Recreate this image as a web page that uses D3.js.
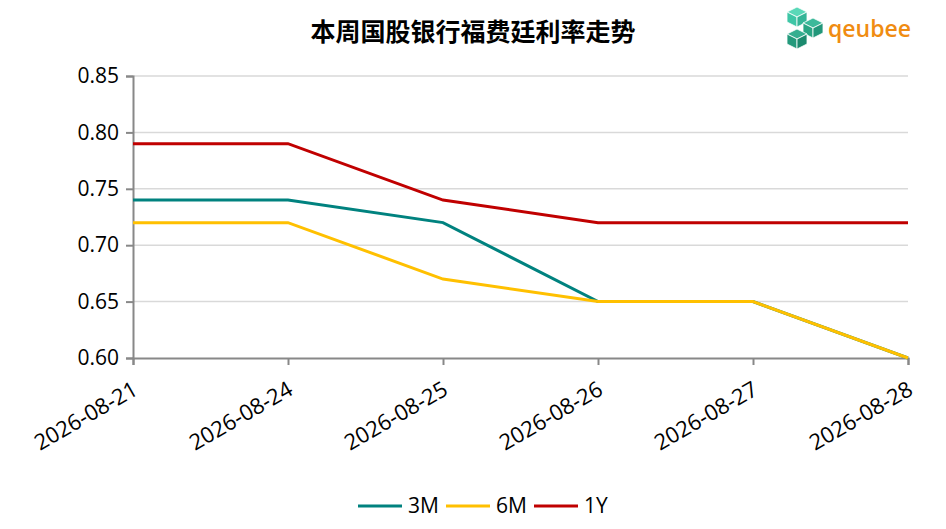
<!DOCTYPE html>
<html><head><meta charset="utf-8">
<script src="https://cdn.jsdelivr.net/npm/d3@7"></script>
<style>
body{margin:0;background:#fff;}
text{font-family:"Open Sans","Noto Sans",sans-serif;}
</style></head>
<body><svg id="c" width="946" height="529"></svg>
<script>
const dates = ["2026-08-21","2026-08-24","2026-08-25","2026-08-26","2026-08-27","2026-08-28"];
const s3M = [0.74,0.74,0.72,0.65,0.65,0.60];
const s6M = [0.72,0.72,0.67,0.65,0.65,0.60];
const s1Y = [0.79,0.79,0.74,0.72,0.72,0.72];
const seriesNames = ["3M","6M","1Y"];
const seriesColors = ["#00827f","#ffc000","#c00000"];
const yTicks = [0.60,0.65,0.70,0.75,0.80,0.85];
const title = "本周国股银行福费廷利率走势";

const series = [s3M,s6M,s1Y];
const svg = d3.select("#c");
const m = {l:133,r:38,t:76,b:171};
const W=946,H=529;
const x = d3.scalePoint().domain(dates).range([m.l,W-m.r]);
const y = d3.scaleLinear().domain([0.60,0.85]).range([H-m.b,m.t]);

// grid
svg.append("g").selectAll("line").data(yTicks.slice(1)).join("line")
 .attr("x1",m.l).attr("x2",W-m.r).attr("y1",d=>y(d)).attr("y2",d=>y(d))
 .attr("stroke","#d9d9d9").attr("stroke-width",1.5);

// y axis
const ya = svg.append("g").attr("transform",`translate(${m.l},0)`)
 .call(d3.axisLeft(y).tickValues(yTicks).tickFormat(d3.format(".2f")).tickSize(7).tickPadding(7));
ya.selectAll("text").attr("font-size",21).attr("fill","#000");
ya.select(".domain").attr("stroke","#888").attr("stroke-width",2);
ya.selectAll(".tick line").attr("stroke","#888").attr("stroke-width",2);

// x axis
const xa = svg.append("g").attr("transform",`translate(0,${H-m.b})`)
 .call(d3.axisBottom(x).tickSize(7));
xa.select(".domain").attr("stroke","#888").attr("stroke-width",2);
xa.selectAll(".tick line").attr("stroke","#888").attr("stroke-width",2);
xa.selectAll("text").attr("font-size",22).attr("fill","#000")
 .attr("text-anchor","end").attr("y",0).attr("dy","0.35em")
 .attr("transform","translate(2,29) rotate(-30)");

// lines
const line = d3.line().x((d,i)=>x(dates[i])).y(d=>y(d));
series.forEach((s,k)=>{
  svg.append("path").datum(s).attr("d",line).attr("fill","none")
   .attr("stroke",seriesColors[k]).attr("stroke-width",3);
});

// title
svg.append("text").attr("x",473).attr("y",41).attr("text-anchor","middle")
 .attr("font-size",25).attr("font-weight","bold")
 .style("font-family","'Noto Sans CJK SC',sans-serif").text(title);

// legend
const lg = svg.append("g");
const legX=[358,446,534];
seriesNames.forEach((n,k)=>{
  lg.append("line").attr("x1",legX[k]).attr("x2",legX[k]+44).attr("y1",506).attr("y2",506)
   .attr("stroke",seriesColors[k]).attr("stroke-width",3);
  lg.append("text").attr("x",legX[k]+50).attr("y",506).attr("dy","0.35em")
   .attr("font-size",21).attr("fill","#000").text(n);
});

// logo
const logo = svg.append("g").attr("transform","translate(787,8)");
const cube = (cx,cy,c1,c2,c3)=>{
  const s=10;
  const g=logo.append("g");
  g.append("polygon").attr("points",`${cx},${cy-s} ${cx+s},${cy-s/2} ${cx},${cy} ${cx-s},${cy-s/2}`).attr("fill",c1);
  g.append("polygon").attr("points",`${cx-s},${cy-s/2} ${cx},${cy} ${cx},${cy+s} ${cx-s},${cy+s/2}`).attr("fill",c2);
  g.append("polygon").attr("points",`${cx},${cy} ${cx+s},${cy-s/2} ${cx+s},${cy+s/2} ${cx},${cy+s}`).attr("fill",c3);
  g.selectAll("polygon").attr("stroke","#fff").attr("stroke-width",0.8);
};
cube(10,9,"#5ad8b8","#3ec6a6","#35b597");
cube(26,20,"#3cb99a","#2aa584","#22977a");
cube(10,31,"#36ae90","#249a7c","#1c8a6e");
logo.append("text").attr("x",41).attr("y",29).attr("font-size",23).attr("font-weight",600)
 .attr("fill","#f08c12").style("font-family","'Open Sans',sans-serif").text("qeubee");
</script></body></html>
